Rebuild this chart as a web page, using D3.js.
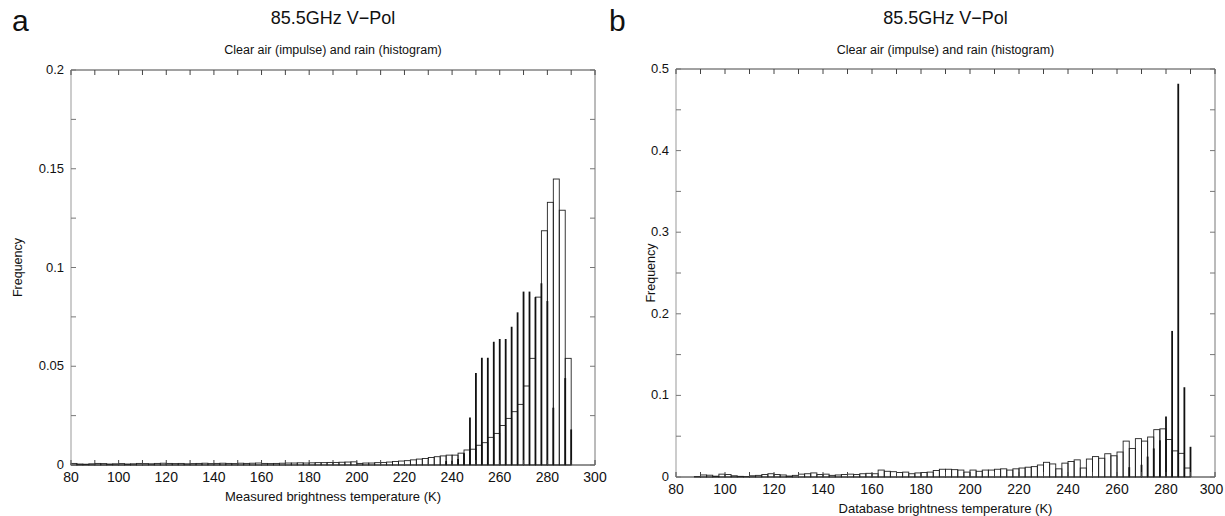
<!DOCTYPE html>
<html><head><meta charset="utf-8">
<script src="https://cdn.jsdelivr.net/npm/d3@7"></script>
<style>
html,body{margin:0;padding:0;background:#fff;}
svg{display:block;font-family:"Liberation Sans",Arial,Helvetica,sans-serif;}
</style></head>
<body>
<svg id="chart" width="1225" height="516"></svg>
<script>
// ---------- data ----------
const binWidth = 2.5;
const binStart = d3.range(80, 290, 2.5); // 84 rain histogram bins (K)

// Panel a: rain histogram (measured Tb)
const rainA = [
  0.0008,0.0005,0.0004,0.0006,0.0008,0.0007,0.0005,0.0006,0.0007,0.0005,
  0.0006,0.0008,0.0007,0.0006,0.0008,0.0009,0.0008,0.0007,0.0008,0.0006,
  0.0007,0.0008,0.0009,0.0007,0.0008,0.0009,0.0008,0.0007,0.0009,0.0008,
  0.0009,0.0010,0.0008,0.0007,0.0008,0.0009,0.0010,0.0010,0.0011,0.0010,
  0.0011,0.0012,0.0012,0.0013,0.0013,0.0014,0.0015,0.0016,0.0008,0.0010,
  0.0010,0.0012,0.0013,0.0015,0.0018,0.0020,0.0022,0.0026,0.0030,0.0033,
  0.0038,0.0042,0.0046,0.0050,0.0050,0.0060,0.0076,0.0080,0.0100,0.0113,
  0.0140,0.0160,0.0200,0.0236,0.0270,0.0307,0.0400,0.0540,0.0850,0.1186,
  0.1330,0.1448,0.1290,0.0540
];
// Panel a: clear-air impulses
const clearTempA = [237.5,240,242.5,245,247.5,250,252.5,255,257.5,260,262.5,265,267.5,270,272.5,275,277.5,280,282.5,287.5,290];
const clearFreqA = [0.002,0.002,0.003,0.006,0.024,0.0466,0.0543,0.0543,0.0624,0.0638,0.0638,0.070,0.0773,0.0878,0.0878,0.085,0.092,0.083,0.029,0.044,0.018];

// Panel b: rain histogram (database Tb)
const rainB = [
  0,0,0,0.0005,0.0025,0.0022,0.0010,0.0035,0.0030,0.0015,
  0.0008,0.0005,0.0015,0.0020,0.0030,0.0040,0.0030,0.0025,0.0012,0.0020,
  0.0035,0.0040,0.0050,0.0030,0.0035,0.0020,0.0025,0.0030,0.0035,0.0030,
  0.0040,0.0045,0.0040,0.0085,0.0070,0.0065,0.0055,0.0060,0.0040,0.0050,
  0.0055,0.0060,0.0080,0.0095,0.0095,0.0090,0.0085,0.0060,0.0085,0.0070,
  0.0085,0.0085,0.0095,0.0100,0.0085,0.0100,0.0110,0.0120,0.0127,0.0147,
  0.0180,0.0160,0.0100,0.0170,0.0190,0.0210,0.0110,0.0220,0.0250,0.0230,
  0.0285,0.0260,0.0306,0.0440,0.0350,0.0470,0.0440,0.0490,0.0580,0.0590,
  0.0460,0.0320,0.0290,0.0110
];
// Panel b: clear-air impulses
const clearTempB = [265,270,272.5,275,277.5,280,282.5,285,287.5,290];
const clearFreqB = [0.012,0.015,0.025,0.035,0.045,0.074,0.179,0.482,0.110,0.037];

const xTickLabels = [80,100,120,140,160,180,200,220,240,260,280,300];
const xMinorTicks = [80,90,100,110,120,130,140,150,160,170,180,190,200,210,220,230,240,250,260,270,280,290,300];
const yTicksA = [0,0.05,0.1,0.15,0.2];
const yMinorA = [0,0.025,0.05,0.075,0.1,0.125,0.15,0.175,0.2];
const yTicksB = [0,0.1,0.2,0.3,0.4,0.5];
const yMinorB = [0,0.05,0.1,0.15,0.2,0.25,0.3,0.35,0.4,0.45,0.5];

const titleText = "85.5GHz V\u2212Pol";
const subtitleText = "Clear air (impulse) and rain (histogram)";

// ---------- drawing ----------
const svg = d3.select("#chart");

function panel(cfg) {
  const x = d3.scaleLinear().domain([80, 300]).range([cfg.left, cfg.right]);
  const y = d3.scaleLinear().domain([0, cfg.ymax]).range([cfg.bottom, cfg.top]);
  const g = svg.append("g");

  // histogram bars (hollow)
  g.append("g").selectAll("rect").data(binStart.map((s, i) => ({s, v: cfg.rain[i]})))
    .join("rect")
    .attr("x", d => x(d.s))
    .attr("width", d => x(d.s + binWidth) - x(d.s))
    .attr("y", d => y(d.v))
    .attr("height", d => y(0) - y(d.v))
    .attr("fill", "none")
    .attr("stroke", "#222")
    .attr("stroke-width", 0.9);

  // impulses
  g.append("g").selectAll("line").data(cfg.impT.map((t, i) => ({t, v: cfg.impF[i]})))
    .join("line")
    .attr("x1", d => x(d.t)).attr("x2", d => x(d.t))
    .attr("y1", y(0)).attr("y2", d => y(d.v))
    .attr("stroke", "#111")
    .attr("stroke-width", 1.8);

  // frame
  const fr = g.append("g").attr("fill", "none");
  fr.append("line").attr("x1", cfg.left).attr("x2", cfg.right).attr("y1", cfg.bottom).attr("y2", cfg.bottom).attr("stroke", "#222");
  fr.append("line").attr("x1", cfg.left).attr("x2", cfg.right).attr("y1", cfg.top).attr("y2", cfg.top).attr("stroke", "#444");
  fr.append("line").attr("x1", cfg.left).attr("x2", cfg.left).attr("y1", cfg.top).attr("y2", cfg.bottom).attr("stroke", "#999");
  fr.append("line").attr("x1", cfg.right).attr("x2", cfg.right).attr("y1", cfg.top).attr("y2", cfg.bottom).attr("stroke", "#777");

  // ticks (inward, all sides)
  const tk = 5;
  g.append("g").selectAll("line.xb").data(xMinorTicks).join("line")
    .attr("x1", d => x(d)).attr("x2", d => x(d))
    .attr("y1", cfg.bottom).attr("y2", cfg.bottom - tk).attr("stroke", "#444");
  g.append("g").selectAll("line.xt").data(xMinorTicks).join("line")
    .attr("x1", d => x(d)).attr("x2", d => x(d))
    .attr("y1", cfg.top).attr("y2", cfg.top + tk).attr("stroke", "#444");
  g.append("g").selectAll("line.yl").data(cfg.yMinor).join("line")
    .attr("x1", cfg.left).attr("x2", cfg.left + tk)
    .attr("y1", d => y(d)).attr("y2", d => y(d)).attr("stroke", "#777");
  g.append("g").selectAll("line.yr").data(cfg.yMinor).join("line")
    .attr("x1", cfg.right).attr("x2", cfg.right - tk)
    .attr("y1", d => y(d)).attr("y2", d => y(d)).attr("stroke", "#777");

  // tick labels (keep last label inside the page)
  g.append("g").selectAll("text").data(xTickLabels).join("text")
    .attr("x", d => Math.min(x(d), 1224 - 12.5))
    .attr("y", cfg.bottom + 17)
    .attr("text-anchor", "middle").attr("font-size", 14).attr("fill", "#111")
    .text(d => d);
  g.append("g").selectAll("text").data(cfg.yTicks).join("text")
    .attr("x", cfg.left - 7).attr("y", d => y(d) + 4)
    .attr("text-anchor", "end").attr("font-size", 13).attr("fill", "#111")
    .text(d => d3.format("~g")(d));

  // labels
  const cx = (cfg.left + cfg.right) / 2;
  g.append("text").attr("x", cx).attr("y", 24).attr("text-anchor", "middle")
    .attr("font-size", 18).attr("fill", "#111").text(titleText);
  g.append("text").attr("x", cx).attr("y", 54).attr("text-anchor", "middle")
    .attr("font-size", 12.5).attr("fill", "#111").text(subtitleText);
  g.append("text").attr("x", cx).attr("y", cfg.bottom + 36).attr("text-anchor", "middle")
    .attr("font-size", 13).attr("fill", "#111").text(cfg.xlabel);
  g.append("text")
    .attr("transform", `translate(${cfg.ylabX},${(cfg.top + cfg.bottom) / 2}) rotate(-90)`)
    .attr("text-anchor", "middle").attr("font-size", 12.5).attr("fill", "#111").text("Frequency");
  g.append("text").attr("x", cfg.letterX).attr("y", 31).attr("font-size", 30).attr("fill", "#111").text(cfg.letter);
}

panel({left: 71, right: 595, top: 70, bottom: 465, ymax: 0.2,
  rain: rainA, impT: clearTempA, impF: clearFreqA,
  yTicks: yTicksA, yMinor: yMinorA,
  xlabel: "Measured brightness temperature (K)", ylabX: 22, letter: "a", letterX: 12});
panel({left: 676, right: 1215, top: 69, bottom: 477, ymax: 0.5,
  rain: rainB, impT: clearTempB, impF: clearFreqB,
  yTicks: yTicksB, yMinor: yMinorB,
  xlabel: "Database brightness temperature (K)", ylabX: 655, letter: "b", letterX: 609});
</script>
</body></html>
